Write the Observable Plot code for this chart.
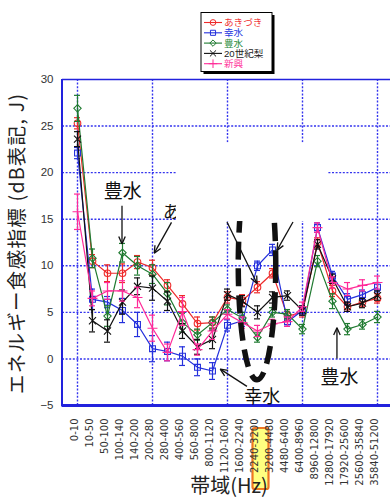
<!DOCTYPE html>
<html><head><meta charset="utf-8">
<script src="https://cdn.jsdelivr.net/npm/d3@7"></script>
<script src="https://cdn.jsdelivr.net/npm/@observablehq/plot@0.6"></script>
<style>
body{margin:0;background:#fff;}
#chart{width:390px;height:500px;overflow:hidden;}
#chart svg{display:block;}
</style></head><body><div id="chart"></div>
<script>
// ---- data ----
const bands = ["0-10","10-50","50-100","100-140","140-200","200-280","280-400","400-560","560-800","800-1120","1120-1600","1600-2240","2240-3200","3200-4480","4480-6400","6400-8960","8960-12800","12800-17920","17920-25600","25600-35840","35840-51200"];
const seriesNames = ["あきづき","幸水","豊水","20世紀梨","新興"];
const akizuki    = [25.3,10.5,9.2,9.2,10.4,9.8,7.9,5.9,3.8,3.9,6.6,6.3,7.7,9.2,4.6,5.0,12.5,7.3,5.6,6.1,6.5];
const kosui      = [22.1,6.4,6.1,5.2,3.7,1.1,0.8,0.3,-0.9,-1.3,3.6,4.1,10.0,11.7,4.0,5.2,14.1,8.9,6.4,6.9,7.7];
const hosui      = [26.9,10.8,4.6,11.4,10.0,9.1,7.0,3.9,2.6,3.9,5.3,4.4,2.3,5.0,4.8,3.2,10.5,6.2,3.2,3.7,4.5];
const nijisseiki = [23.6,4.1,3.0,6.1,7.8,7.6,6.2,3.0,1.3,2.1,6.9,6.2,5.0,6.6,6.8,5.2,12.3,8.6,5.6,6.0,6.8];
const shinko     = [15.8,6.5,7.3,7.3,6.6,3.3,0.7,5.1,1.0,3.0,4.8,3.9,3.0,3.75,4.0,5.6,14.1,8.2,7.5,7.9,8.2];
const akizukiErr    = [0.6,0.7,0.9,1.0,0.7,0.8,0.6,0.9,0.7,0.6,0.6,0.6,0.6,0.5,0.5,0.5,0.5,0.6,0.5,0.5,0.5];
const kosuiErr      = [0.6,1.1,0.6,1.3,1.3,1.4,1.0,1.0,0.9,0.9,0.6,0.6,0.5,0.6,0.5,0.5,0.5,0.5,0.6,0.5,0.5];
const hosuiErr      = [1.4,1.0,1.1,1.0,1.0,1.0,1.2,1.0,0.6,0.6,0.5,0.6,0.5,0.5,0.5,0.5,0.6,0.8,0.6,0.5,0.6];
const nijisseikiErr = [0.8,1.2,1.2,1.3,0.9,1.3,1.0,0.8,0.8,1.0,0.6,0.6,0.7,0.6,0.5,0.5,0.5,0.5,0.5,0.5,0.5];
const shinkoErr     = [1.9,0.8,0.9,1.1,1.1,1.4,0.9,1.5,0.6,0.9,0.5,0.6,0.6,0.5,0.5,0.5,0.5,0.6,0.7,0.6,0.7];
const yTicks = [-5,0,5,10,15,20,25,30];
const highlightBand = "2240-3200";
const xTitle = "帯域(Hz)";
const yTitle = "エネルギー食感指標 (dB表記, J)";

// ---- styles ----
const seriesValues = [akizuki,kosui,hosui,nijisseiki,shinko];
const seriesErrs = [akizukiErr,kosuiErr,hosuiErr,nijisseikiErr,shinkoErr];
const colors = ["#ee2a2a","#2430dc","#1f7a30","#111111","#ff2a98"];
const legendColors = ["#f03232","#2a3ae0","#2a8a3a","#222222","#ff3aa0"];
const symbols = ["circle","square","diamond2","times","plus"];
const d3symbols = [d3.symbolCircle,d3.symbolSquare,d3.symbolDiamond2,d3.symbolTimes,d3.symbolPlus];
const gridBlue = "#3535ee";
const frameBlue = "#2222dd";
const cjk = "'Noto Sans CJK JP', sans-serif";

const rows = seriesNames.map((s,k)=>bands.map((b,i)=>({series:s,band:b,value:seriesValues[k][i],err:seriesErrs[k][i]})));

const marks = [
  Plot.ruleY(yTicks.filter(d=>d>-5 && d<30), {stroke:gridBlue, strokeWidth:1.4, strokeDasharray:"2,1.6"}),
  Plot.ruleX(bands.filter((d,i)=>i%5===0), {stroke:gridBlue, strokeWidth:1.4, strokeDasharray:"2,1.6"}),
  Plot.ruleY([30], {stroke:frameBlue, strokeWidth:1.5}),
  Plot.ruleY([-5], {stroke:frameBlue, strokeWidth:3}),
];
rows.forEach((data,k)=>{
  marks.push(
    Plot.ruleX(data, {x:"band", y1:d=>d.value-d.err, y2:d=>d.value+d.err, stroke:colors[k], strokeWidth:1.2}),
    Plot.tickY(data, {x:"band", y:d=>d.value-d.err, stroke:colors[k], strokeWidth:1.2}),
    Plot.tickY(data, {x:"band", y:d=>d.value+d.err, stroke:colors[k], strokeWidth:1.2}),
    Plot.line(data, {x:"band", y:"value", stroke:colors[k], strokeWidth:1.2}),
    Plot.dot(data, {x:"band", y:"value", symbol:symbols[k], stroke:colors[k], r:3.3, strokeWidth:1.1})
  );
});
// tick labels
marks.push(
  Plot.text(bands, {x:d=>d, frameAnchor:"bottom", dy:13, rotate:-90, textAnchor:"end", text:d=>d,
    fontSize:10, fontFamily:"DejaVu Sans", fill:"#333"}),
  Plot.text(yTicks, {y:d=>d, frameAnchor:"left", dx:-9, textAnchor:"end", text:d=>d<0?"\u2212"+(-d):String(d),
    fontSize:11.5, fontFamily:"Liberation Sans", fill:"#333"})
);

const chart = Plot.plot({
  width:390, height:500,
  marginLeft:62, marginRight:0, marginTop:79, marginBottom:95,
  x:{type:"band", domain:bands, range:[62,392], paddingInner:0.6, paddingOuter:0.8, axis:null},
  y:{domain:[-5,30], axis:null},
  style:{background:"#fff", overflow:"visible"},
  marks
});
document.getElementById("chart").appendChild(chart);

// ---- post-processing: frame, titles, annotations, legend ----
const svg = d3.select(chart);
const xs = chart.scale("x"), ys = chart.scale("y");
const x0 = xs.apply(bands[0]) + xs.bandwidth/2;
const step = xs.apply(bands[1]) - xs.apply(bands[0]);
const X = i => x0 + i*step;
const Y = v => ys.apply(v);

// left frame line
svg.append("line").attr("x1",62).attr("x2",62).attr("y1",Y(30)).attr("y2",Y(-5)+1.5)
  .attr("stroke",frameBlue).attr("stroke-width",2);

// highlight box behind the highlighted x label
const ci = bands.indexOf(highlightBand);
svg.selectAll("text").each(function(){
  if (this.textContent === highlightBand) {
    const len = this.getComputedTextLength();
    d3.select(this.parentNode).insert("rect", ()=>this)
      .attr("x", X(ci)-8).attr("y", Y(-5)+9.5)
      .attr("width", 16).attr("height", len+6.5)
      .attr("rx",2).attr("fill","#ffff80").attr("stroke","#ee7722").attr("stroke-width",2.2);
  }
});

// axis titles
svg.append("text").attr("transform",`translate(24,${(Y(30)+Y(-5))/2+2}) rotate(-90)`)
  .attr("text-anchor","middle").attr("font-family",cjk).attr("font-size",19.5).attr("fill","#222")
  .attr("textLength",300).attr("lengthAdjust","spacing").text(yTitle);
svg.append("text").attr("x",229).attr("y",493).attr("text-anchor","middle")
  .attr("font-family",cjk).attr("font-size",20).attr("fill","#222").text(xTitle);

function arrow(i1,v1,i2,v2){
  const x1=X(i1),y1=Y(v1),x2=X(i2),y2=Y(v2);
  const g = svg.append("g").attr("stroke","#111").attr("stroke-width",1.3).attr("fill","none");
  g.append("line").attr("x1",x1).attr("y1",y1).attr("x2",x2).attr("y2",y2);
  const a = Math.atan2(y2-y1,x2-x1), L=8, w=0.42;
  [-1,1].forEach(s=>g.append("line").attr("x1",x2).attr("y1",y2)
    .attr("x2",x2-L*Math.cos(a+s*w)).attr("y2",y2-L*Math.sin(a+s*w)));
}
function label(i,v,txt,size,anchor){
  svg.append("text").attr("x",X(i)).attr("y",Y(v)).attr("text-anchor",anchor||"middle")
    .attr("dominant-baseline","central").attr("font-family",cjk).attr("font-size",size)
    .attr("fill","#111").text(txt);
}
// dashed ellipse around the highlighted band
svg.append("ellipse").attr("cx",X(ci)).attr("cy",Y(10.0)).attr("rx",1.25*step).attr("ry",Y(0)-Y(12.3))
  .attr("fill","none").attr("stroke","#111").attr("stroke-width",5.5).attr("stroke-dasharray","18,9");

label(3.05,18.1,"豊水",19);
arrow(3,16.4,3,12.3);
label(5.73,15.9,"あきづき",17,"start");
arrow(6.3,14.6,5.15,11.3);

// white box covering the upper middle (as in the reference)
svg.append("rect").attr("x",X(6.6)).attr("y",Y(23.2)).attr("width",X(16.73)-X(6.6)).attr("height",Y(14.75)-Y(23.2))
  .attr("fill","#fff");

arrow(10,14.65,12,8.05);
arrow(14.4,14.65,13.33,11.6);
label(12.35,-3.9,"幸水",18);
arrow(11.33,-3.0,9.55,-1.15);
label(17.5,-1.8,"豊水",19);
arrow(17.33,0,17.33,3.3);

// legend
const lg = svg.append("g");
const bx=201, by=12.5, bw=71, bh=59;
lg.append("rect").attr("x",bx+2.5).attr("y",by+2.5).attr("width",bw).attr("height",bh).attr("fill","#000");
lg.append("rect").attr("x",bx).attr("y",by).attr("width",bw).attr("height",bh).attr("fill","#fff").attr("stroke","#000").attr("stroke-width",1);
seriesNames.forEach((s,k)=>{
  const yy = by + 10 + k*10.3;
  lg.append("line").attr("x1",bx+3).attr("x2",bx+21).attr("y1",yy).attr("y2",yy).attr("stroke",colors[k]).attr("stroke-width",1.1);
  lg.append("path").attr("d",d3.symbol(d3symbols[k],26)()).attr("transform",`translate(${bx+12},${yy})`)
    .attr("fill","none").attr("stroke",colors[k]).attr("stroke-width",1);
  lg.append("text").attr("x",bx+23).attr("y",yy).attr("text-anchor","start").attr("dominant-baseline","central")
    .attr("font-family","'Liberation Sans', 'Noto Sans CJK JP', sans-serif").attr("font-size",9.6)
    .attr("fill",legendColors[k]).text(s);
});
</script></body></html>
